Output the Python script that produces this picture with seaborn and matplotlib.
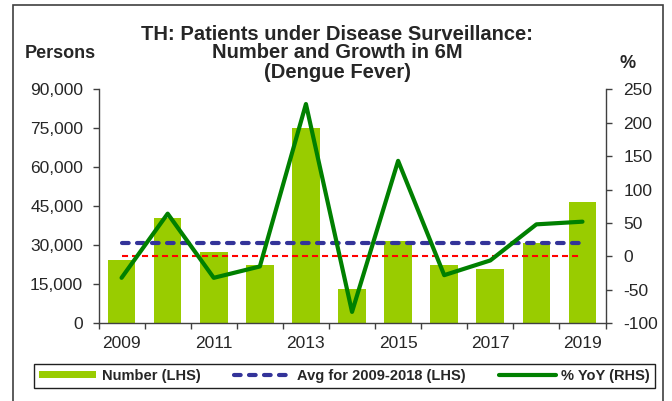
import numpy as np
import pandas as pd
import seaborn as sns
import matplotlib.pyplot as plt
from matplotlib.ticker import FuncFormatter
from matplotlib.patches import Rectangle

# data -------------------------------------------------------------------------
years = ["2009", "2010", "2011", "2012", "2013", "2014",
         "2015", "2016", "2017", "2018", "2019"]
patients = [24500, 40600, 27300, 22500, 75000, 13100,
            31600, 22500, 21000, 31000, 46600]
yoy_pct = [-32, 64, -32, -15, 228, -83, 143, -28, -6, 48, 52]

avg_2009_2018 = [np.mean(patients[:10])] * len(years)
zero_line = [0] * len(years)

df = pd.DataFrame({"year": years, "patients": patients, "yoy": yoy_pct,
                   "avg": avg_2009_2018, "zero": zero_line})
df["pos"] = np.arange(len(years))

# style --------------------------------------------------------------------
sns.set_style("white")
plt.rcParams["font.family"] = ["Liberation Sans", "DejaVu Sans"]
plt.rcParams["font.size"] = 12
plt.rcParams["axes.unicode_minus"] = False

fig = plt.figure(figsize=(6.72, 4.01), dpi=100)
ax = fig.add_axes([0.1466, 0.1938, 0.7545, 0.5835])

# bars
sns.barplot(data=df, x="pos", y="patients", color="#99CC00", saturation=1,
            width=0.6, linewidth=0, ax=ax, label="Number (LHS)", zorder=2)

# average line (LHS)
sns.lineplot(data=df, x="pos", y="avg", ax=ax, color="#333399", lw=3,
             linestyle=(0, (1.6, 2.0)), dash_capstyle="round",
             label="Avg for 2009-2018 (LHS)", legend=False, zorder=3)
if ax.get_legend() is not None:
    ax.get_legend().remove()

ax2 = ax.twinx()
# zero reference line (RHS)
sns.lineplot(data=df, x="pos", y="zero", ax=ax2, color="#FF0000", lw=1.5,
             linestyle=(0, (2.9, 1.9)), legend=False, zorder=2)
# % YoY (RHS)
sns.lineplot(data=df, x="pos", y="yoy", ax=ax2, color="#008000", lw=3,
             label="% YoY (RHS)", legend=False, zorder=3)
if ax2.get_legend() is not None:
    ax2.get_legend().remove()

# axes limits & ticks
ax.set_xlim(-0.5, len(years) - 0.5)
ax.set_ylim(0, 90000)
ax2.set_ylim(-100, 250)
ax.set_yticks(np.arange(0, 90001, 15000))
ax2.set_yticks(np.arange(-100, 251, 50))
ax.yaxis.set_major_formatter(FuncFormatter(lambda v, p: f"{v:,.0f}"))

ax.set_xticks(np.arange(-0.5, len(years), 1))
ax.set_xticklabels([])
ax.set_xticks(np.arange(0, len(years), 2), minor=True)
ax.set_xticklabels(years[::2], minor=True)
ax.tick_params(axis="x", which="major", direction="out", length=4, width=1,
               color="#404040", bottom=True)
ax.tick_params(axis="x", which="minor", length=0, pad=9, labelsize=12.5)
ax.tick_params(axis="y", direction="out", length=4, width=1, color="#404040",
               pad=7, labelsize=12.5, left=True)
ax2.tick_params(axis="y", direction="out", length=4, width=1, color="#404040",
                pad=9, labelsize=12.5, right=True)

ax.set_xlabel("")
ax.set_ylabel("")
ax2.set_xlabel("")
ax2.set_ylabel("")

for a in (ax, ax2):
    for s in a.spines.values():
        s.set_color("#404040")
        s.set_linewidth(1)
    a.spines["top"].set_visible(False)
ax.spines["right"].set_visible(False)
ax2.spines["left"].set_visible(False)
ax2.spines["bottom"].set_visible(False)

# texts
fig.text(337 / 672, 1 - 53 / 401,
         "TH: Patients under Disease Surveillance:\nNumber and Growth in 6M\n(Dengue Fever)",
         ha="center", va="center", multialignment="center", fontsize=14.5,
         fontweight="bold", linespacing=1.0)
fig.text(60 / 672, 1 - 53 / 401, "Persons", ha="center", va="center",
         fontsize=13, fontweight="bold")
fig.text(628 / 672, 1 - 63 / 401, "%", ha="center", va="center",
         fontsize=13, fontweight="bold")

# legend (Number, Avg, YoY)
h1, l1 = ax.get_legend_handles_labels()
h2, l2 = ax2.get_legend_handles_labels()
lookup = dict(zip(l1 + l2, h1 + h2))
order = ["Number (LHS)", "Avg for 2009-2018 (LHS)", "% YoY (RHS)"]
leg = fig.legend([lookup[k] for k in order], order, ncol=3, loc="center",
                 bbox_to_anchor=(33 / 672, 12 / 401, 623 / 672, 26.5 / 401),
                 frameon=True, fancybox=False, framealpha=1, edgecolor="#202020",
                 prop={"weight": "bold", "size": 10.5}, handlelength=3.9,
                 handleheight=0.45, handletextpad=0.4, columnspacing=2.3,
                 borderaxespad=0, borderpad=0.35)
leg.get_frame().set_linewidth(1)

# outer frame
fig.patches.append(Rectangle((12.7 / 672, -0.05), (662.5 - 12.7) / 672, 1.05 - 5 / 401,
                             transform=fig.transFigure, fill=False,
                             edgecolor="#404040", linewidth=1.2, clip_on=False))

fig.savefig("out.png", dpi=100)
